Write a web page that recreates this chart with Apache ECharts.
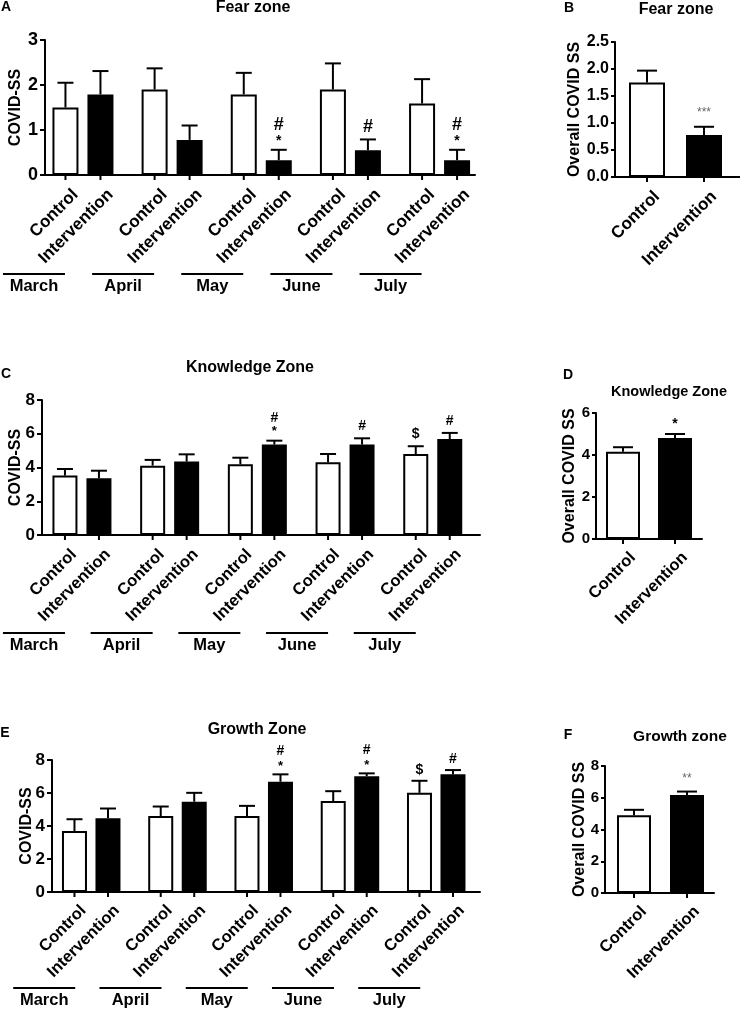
<!DOCTYPE html>
<html><head><meta charset="utf-8">
<script src="https://cdn.jsdelivr.net/npm/echarts@6/dist/echarts.min.js"></script>
<style>html,body{margin:0;padding:0;background:#fff}#c{width:740px;height:1020px}</style>
</head><body><div id="c"></div>
<script>
const FONT = '"Liberation Sans", Arial, sans-serif';

// ---------- data ----------
const months = ['March', 'April', 'May', 'June', 'July'];
const groups = ['Control', 'Intervention'];

// A: Fear zone (monthly)
const fearControl = [1.50, 1.90, 1.79, 1.90, 1.59];
const fearControlErr = [0.55, 0.47, 0.48, 0.58, 0.54];
const fearInterv = [1.79, 0.78, 0.33, 0.55, 0.33];
const fearIntervErr = [0.52, 0.32, 0.23, 0.24, 0.23];
const fearControlMarks = ['', '', '', '', ''];
const fearIntervMarks = ['', '', '#\n*', '#', '#\n*'];

// B: Fear zone (overall)
const fearOverall = [1.75, 0.78];
const fearOverallErr = [0.22, 0.15];
const fearOverallMarks = ['', '***'];

// C: Knowledge zone (monthly)
const knowControl = [3.52, 4.11, 4.19, 4.31, 4.80];
const knowControlErr = [0.39, 0.34, 0.39, 0.49, 0.46];
const knowInterv = [3.36, 4.35, 5.36, 5.36, 5.69];
const knowIntervErr = [0.45, 0.43, 0.23, 0.37, 0.36];
const knowControlMarks = ['', '', '', '', '$'];
const knowIntervMarks = ['', '', '#\n*', '#', '#'];

// D: Knowledge zone (overall)
const knowOverall = [4.16, 4.81];
const knowOverallErr = [0.21, 0.19];
const knowOverallMarks = ['', '*'];

// E: Growth zone (monthly)
const growControl = [3.70, 4.60, 4.60, 5.51, 6.01];
const growControlErr = [0.71, 0.58, 0.62, 0.60, 0.73];
const growInterv = [4.47, 5.47, 6.68, 7.02, 7.13];
const growIntervErr = [0.59, 0.54, 0.45, 0.17, 0.26];
const growControlMarks = ['', '', '', '', '$'];
const growIntervMarks = ['', '', '#\n*', '#\n*', '#'];

// F: Growth zone (overall)
const growOverall = [4.90, 6.18];
const growOverallErr = [0.34, 0.21];
const growOverallMarks = ['', '**'];

// ---------- builders ----------
const grids = [], xAxes = [], yAxes = [], series = [];
const fills = ['#fff', '#000'];

function addAxisGrid(p, yName) {
  const gi = grids.length;
  const r = p.axis;
  grids.push({left: r.left, top: r.top, width: r.width, height: r.height});
  xAxes.push({gridIndex: gi, type: 'value', min: 0, max: 1,
    axisLine: {show: true, onZero: false, lineStyle: {color: '#000', width: 2}},
    axisTick: {show: false}, axisLabel: {show: false}, splitLine: {show: false}});
  yAxes.push({gridIndex: gi, type: 'value', min: 0, max: p.yMax, interval: p.yInt,
    axisLine: {show: true, lineStyle: {color: '#000', width: 2}},
    axisTick: {show: true, length: p.tickLen, lineStyle: {color: '#000', width: 2}},
    axisLabel: {color: '#000', fontSize: p.tickFont, fontWeight: 'bold', fontFamily: FONT,
      margin: p.labelMargin, formatter: p.fmt || null},
    splitLine: {show: false},
    name: yName, nameLocation: 'middle', nameGap: p.nameGap, nameMoveOverlap: false,
    nameTextStyle: {color: '#000', fontSize: 16, fontWeight: 'bold', fontFamily: FONT}});
  return gi;
}

function addDataGrid(p, cats, xLabel) {
  const gi = grids.length;
  grids.push({left: p.dataLeft, top: p.axis.top, width: p.dataWidth, height: p.axis.height});
  xAxes.push({gridIndex: gi, type: 'category', data: cats,
    axisLine: {show: false}, axisTick: {show: false}, splitLine: {show: false},
    axisLabel: xLabel});
  yAxes.push({gridIndex: gi, type: 'value', min: 0, max: p.yMax, show: false});
  return gi;
}

// error bars, tick under bar, rotated group label and significance marks
function errSeries(gi, vals, errs, marks, offset, p, labelOf) {
  const ms = p.marks;
  return {
    type: 'custom', xAxisIndex: gi, yAxisIndex: gi, clip: false, silent: true, z: 5,
    data: vals.map((v, i) => [i, v, v + errs[i]]),
    encode: {x: 0, y: [1, 2]},
    renderItem: (params, api) => {
      const i = api.value(0);
      const pTop = api.coord([i, api.value(1)]);
      const pHi = api.coord([i, api.value(2)]);
      const pBase = api.coord([i, 0]);
      const x = pTop[0] + offset;
      const ls = {stroke: '#000', lineWidth: 2};
      const ch = [
        {type: 'line', shape: {x1: x, y1: pTop[1], x2: x, y2: pHi[1]}, style: ls},
        {type: 'line', shape: {x1: x - p.capW / 2, y1: pHi[1], x2: x + p.capW / 2, y2: pHi[1]}, style: ls},
        {type: 'line', shape: {x1: x, y1: pBase[1], x2: x, y2: pBase[1] + 5}, style: ls},
        {type: 'text', x: x + p.lblDx, y: pBase[1] + p.lblDy, rotation: Math.PI / 4,
          style: {text: labelOf(params.dataIndex), align: 'right', verticalAlign: 'top',
            fontSize: p.lblFont, fontWeight: 'bold', fill: '#000', fontFamily: FONT}}
      ];
      const m = marks[params.dataIndex];
      if (m) {
        m.split('\n').reverse().forEach((t, k) => {
          const isStar = /^\*+$/.test(t);
          const st = isStar ? ms.star : ms.sym;
          ch.push({type: 'text', x: x, y: pHi[1] - ms.base - k * ms.step + (isStar ? ms.starDy : 0),
            style: {text: t, align: 'center', verticalAlign: 'middle', fill: st.fill || '#000',
              fontSize: st.size, fontWeight: st.weight || 'bold', fontFamily: FONT}});
        });
      }
      return {type: 'group', children: ch};
    }
  };
}

function monthPanel(p, ctrl, ctrlErr, intv, intvErr, ctrlMarks, intvMarks) {
  addAxisGrid(p, 'COVID-SS');
  const dg = addDataGrid(p, months, {
    interval: 0, margin: p.monthMargin, padding: [0, -2 * p.monthShift, 0, 0],
    color: '#000', fontFamily: FONT,
    formatter: v => '{ln|}\n{m|' + v + '}',
    rich: {
      ln: {width: 62, height: 2, backgroundColor: '#000'},
      m: {fontSize: 16.5, fontWeight: 'bold', lineHeight: 22, fontFamily: FONT, color: '#000'}
    }
  });
  const gapPct = ((2 * p.offset - p.barW) / p.barW * 100) + '%';
  series.push({type: 'bar', name: groups[0], xAxisIndex: dg, yAxisIndex: dg, data: ctrl,
    barWidth: p.barW, barGap: gapPct, silent: true,
    itemStyle: {color: fills[0], borderColor: '#000', borderWidth: 2}});
  series.push({type: 'bar', name: groups[1], xAxisIndex: dg, yAxisIndex: dg, data: intv,
    barWidth: p.barW, barGap: gapPct, silent: true,
    itemStyle: {color: fills[1], borderColor: '#000', borderWidth: 2}});
  series.push(errSeries(dg, ctrl, ctrlErr, ctrlMarks, -p.offset, p, () => groups[0]));
  series.push(errSeries(dg, intv, intvErr, intvMarks, p.offset, p, () => groups[1]));
}

function overallPanel(p, vals, errs, marks) {
  addAxisGrid(p, 'Overall COVID SS');
  const dg = addDataGrid(p, groups, {show: false});
  series.push({type: 'bar', xAxisIndex: dg, yAxisIndex: dg, barWidth: p.barW, silent: true,
    data: vals.map((v, i) => ({value: v, itemStyle: {color: fills[i]}})),
    itemStyle: {borderColor: '#000', borderWidth: 2}});
  series.push(errSeries(dg, vals, errs, marks, 0, p, i => groups[i]));
}

// ---------- panels ----------
monthPanel({axis: {left: 45, top: 40, width: 430, height: 135}, dataLeft: 37.9, dataWidth: 446.25,
  yMax: 3, yInt: 1, nameGap: 21, tickFont: 18, tickLen: 5, labelMargin: 7,
  barW: 26, offset: 17.5, capW: 16, lblDx: 4, lblDy: 11, lblFont: 17, monthShift: -49, monthMargin: 98,
  marks: {base: 12, step: 13, starDy: 3, sym: {size: 18}, star: {size: 14}}},
  fearControl, fearControlErr, fearInterv, fearIntervErr, fearControlMarks, fearIntervMarks);

overallPanel({axis: {left: 615, top: 42, width: 125, height: 135}, dataLeft: 618.5, dataWidth: 114,
  yMax: 2.5, yInt: 0.5, fmt: v => v.toFixed(1), nameGap: 32, tickFont: 16, tickLen: 4, labelMargin: 6,
  barW: 36, capW: 20, lblDx: 4, lblDy: 11, lblFont: 17,
  marks: {base: 17, step: 12, starDy: 3, sym: {size: 14}, star: {size: 12, fill: '#666', weight: 'normal'}}},
  fearOverall, fearOverallErr, fearOverallMarks);

monthPanel({axis: {left: 42, top: 400, width: 438, height: 135}, dataLeft: 37.6, dataWidth: 439,
  yMax: 8, yInt: 2, nameGap: 18, tickFont: 17, tickLen: 5, labelMargin: 7,
  barW: 25, offset: 17, capW: 16, lblDx: 3, lblDy: 11, lblFont: 16.5, monthShift: -48, monthMargin: 97,
  marks: {base: 12, step: 11, starDy: 3, sym: {size: 14}, star: {size: 13}}},
  knowControl, knowControlErr, knowInterv, knowIntervErr, knowControlMarks, knowIntervMarks);

overallPanel({axis: {left: 596, top: 413, width: 106, height: 126}, dataLeft: 597, dataWidth: 104,
  yMax: 6, yInt: 2, nameGap: 18, tickFont: 15, tickLen: 4, labelMargin: 6,
  barW: 34, capW: 20, lblDx: 4, lblDy: 10, lblFont: 16.5,
  marks: {base: 13, step: 12, starDy: 3, sym: {size: 14}, star: {size: 14}}},
  knowOverall, knowOverallErr, knowOverallMarks);

monthPanel({axis: {left: 52, top: 760, width: 428, height: 132}, dataLeft: 48.1, dataWidth: 431.25,
  yMax: 8, yInt: 2, nameGap: 17, tickFont: 17, tickLen: 5, labelMargin: 7,
  barW: 25, offset: 16.75, capW: 16, lblDx: 3, lblDy: 10, lblFont: 16.5, monthShift: -47, monthMargin: 95,
  marks: {base: 11, step: 12, starDy: 3, sym: {size: 14}, star: {size: 13}}},
  growControl, growControlErr, growInterv, growIntervErr, growControlMarks, growIntervMarks);

overallPanel({axis: {left: 605, top: 766, width: 109, height: 127}, dataLeft: 607.5, dataWidth: 106,
  yMax: 8, yInt: 2, nameGap: 17, tickFont: 15, tickLen: 4, labelMargin: 6,
  barW: 34, capW: 20, lblDx: 4, lblDy: 10, lblFont: 16.5,
  marks: {base: 16, step: 12, starDy: 3, sym: {size: 14}, star: {size: 12, fill: '#666', weight: 'normal'}}},
  growOverall, growOverallErr, growOverallMarks);

// ---------- titles ----------
function txt(text, x, y, size) {
  return {type: 'text', x: x, y: y, style: {text: text, fontSize: size, fontWeight: 'bold',
    fill: '#000', align: 'center', verticalAlign: 'middle', fontFamily: FONT}};
}
const graphics = [
  txt('A', 6, 7, 14), txt('Fear zone', 253, 8, 16),
  txt('B', 569, 8, 14), txt('Fear zone', 676, 10, 16),
  txt('C', 6, 374, 14), txt('Knowledge Zone', 250, 368, 16),
  txt('D', 568, 375, 14), txt('Knowledge Zone', 669, 392, 14.5),
  txt('E', 5, 733, 14), txt('Growth Zone', 257, 730, 16),
  txt('F', 568, 735, 14), txt('Growth zone', 680, 737, 15.5)
];

const chart = echarts.init(document.getElementById('c'), null, {renderer: 'canvas'});
chart.setOption({animation: false, backgroundColor: '#fff', textStyle: {fontFamily: FONT},
  grid: grids, xAxis: xAxes, yAxis: yAxes, series: series, graphic: graphics});
</script>
</body></html>
